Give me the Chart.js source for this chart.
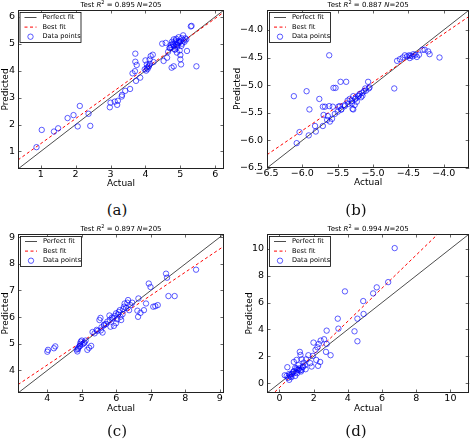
<!DOCTYPE html>
<html><head><meta charset="utf-8">
<script src="https://cdn.jsdelivr.net/npm/chart.js@4.4.0/dist/chart.umd.min.js"></script>
<style>
html,body{margin:0;padding:0;background:#fff;width:474px;height:442px;overflow:hidden;position:relative}
canvas{position:absolute}
.cap{position:absolute;font-family:"DejaVu Serif",serif;font-size:15px;color:#111;transform:translate(-50%,-50%);white-space:nowrap}
</style></head><body>
<canvas id="ca" width="237" height="200" style="left:0;top:0"></canvas>
<canvas id="cb" width="244" height="200" style="left:230px;top:0"></canvas>
<canvas id="cc" width="237" height="200" style="left:0;top:224px"></canvas>
<canvas id="cd" width="244" height="200" style="left:230px;top:224px"></canvas>
<div class="cap" style="left:117px;top:210px">(a)</div>
<div class="cap" style="left:356px;top:210px">(b)</div>
<div class="cap" style="left:117px;top:431px">(c)</div>
<div class="cap" style="left:356px;top:431px">(d)</div>
<script>
// ---------- data ----------
const actualA = [0.88,1.03,1.38,1.5,1.77,1.94,2.12,2.06,2.42,2.37,2.98,3.0,3.12,3.19,3.21,3.32,3.33,3.42,3.56,3.63,3.70,3.71,3.71,3.75,3.73,3.85,3.98,4.0,4.04,4.09,4.12,4.15,4.21,4.23,4.04,4.02,4.06,4.10,4.13,4.48,4.52,4.58,4.62,4.65,4.69,4.73,4.75,4.81,4.76,4.81,4.87,4.9,4.85,4.9,4.98,5.0,5.0,5.02,5.04,5.08,4.95,5.12,5.17,5.19,5.32,5.46,4.78,4.83,4.86,4.92,4.96,5.0,5.05,5.1,4.7,4.74,4.88,4.93,5.03,5.14,4.8,4.84,4.91,4.97,5.30];
const predictedA = [1.16,1.80,1.74,1.86,2.24,2.35,2.69,1.93,1.95,2.40,2.64,2.81,2.85,2.73,2.88,3.04,3.10,3.25,3.32,3.90,3.98,4.63,4.33,4.21,3.62,3.74,4.05,4.38,4.23,4.14,4.41,4.54,4.59,4.32,4.11,4.0,4.06,4.18,4.25,5.0,4.36,5.03,4.48,4.7,4.84,4.95,4.11,4.16,5.07,5.16,5.12,4.97,4.79,4.67,4.75,4.58,4.42,4.23,5.2,5.31,5.24,5.07,5.16,4.73,5.66,4.16,5.0,4.9,5.05,4.95,5.1,5.08,5.0,5.12,4.85,4.88,5.18,5.02,4.92,5.2,4.95,4.78,4.88,5.05,5.64];
const actualB = [-6.12,-5.94,-5.90,-6.04,-6.08,-5.91,-5.81,-5.82,-5.76,-5.71,-5.71,-5.70,-5.68,-5.65,-5.64,-5.62,-5.62,-5.61,-5.58,-5.57,-5.56,-5.53,-5.54,-5.49,-5.46,-5.38,-5.47,-5.45,-5.40,-5.36,-5.33,-5.30,-5.29,-5.28,-5.25,-5.23,-5.21,-5.26,-5.28,-5.19,-5.17,-5.15,-5.13,-5.11,-5.07,-5.06,-4.70,-4.66,-4.62,-4.58,-4.55,-4.52,-4.49,-4.48,-4.44,-4.40,-4.38,-4.35,-4.30,-4.27,-4.22,-4.20,-4.06,-5.5,-5.45,-5.4,-5.35,-5.3,-5.25,-5.2,-5.15,-5.1,-5.05,-4.47,-4.43];
const predictedB = [-5.20,-5.11,-5.44,-5.85,-6.05,-5.91,-5.84,-5.74,-5.25,-5.39,-5.74,-5.54,-5.39,-5.63,-5.56,-4.46,-5.38,-5.66,-5.61,-5.39,-5.05,-5.05,-5.52,-5.39,-4.94,-4.94,-5.38,-5.44,-5.36,-5.28,-5.25,-5.33,-5.43,-5.20,-5.25,-5.30,-5.20,-5.36,-5.44,-5.16,-5.22,-5.19,-5.11,-5.06,-4.94,-5.06,-5.06,-4.56,-4.53,-4.50,-4.46,-4.48,-4.46,-4.51,-4.48,-4.45,-4.49,-4.45,-4.36,-4.36,-4.39,-4.44,-4.50,-5.48,-5.44,-5.38,-5.34,-5.29,-5.24,-5.19,-5.14,-5.1,-5.04,-4.47,-4.44];
const actualC = [4.0,4.02,4.19,4.23,4.87,4.89,4.93,4.95,4.97,5.0,5.06,5.11,5.16,5.21,5.27,5.31,5.37,5.43,5.51,5.54,5.57,5.60,5.64,5.70,5.74,5.80,5.81,5.83,5.87,5.93,5.95,5.99,5.99,6.03,6.07,6.10,6.12,6.14,6.18,6.22,6.24,6.28,6.32,6.34,6.37,6.41,6.46,6.61,6.63,6.64,6.70,6.80,6.86,6.94,6.99,7.07,7.13,7.20,7.44,7.47,7.51,7.69,8.31,4.85,4.9,4.95,5.02,5.08,5.45,5.55,5.65,5.9,6.05,6.2];
const predictedC = [4.70,4.77,4.83,4.90,4.71,4.80,4.90,5.0,5.08,5.12,5.02,5.12,4.77,4.85,4.92,5.44,5.39,5.52,5.89,5.97,5.62,5.42,5.69,5.74,5.83,6.06,5.89,5.64,5.98,5.67,6.04,6.14,5.77,5.92,6.19,6.26,6.01,5.89,6.11,6.39,6.51,6.34,6.54,6.64,6.26,6.45,6.54,6.24,6.01,6.70,6.16,6.26,6.51,7.26,7.13,6.39,6.41,6.45,7.63,7.48,6.79,6.79,7.78,4.78,4.85,4.92,4.98,5.05,5.48,5.5,5.72,5.95,6.1,6.3];
const actualD = [6.74,6.36,5.69,5.48,4.90,3.83,4.92,4.56,3.41,3.45,4.39,4.56,2.76,2.61,2.72,2.99,2.76,2.30,2.22,2.11,2.41,1.99,1.95,2.38,2.26,1.88,1.69,1.57,1.42,1.19,1.23,1.30,1.38,1.11,1.0,0.92,0.84,1.11,1.26,0.80,0.71,0.57,0.46,0.42,0.31,0.57,0.65,0.92,1.03,1.30,1.53,1.80,2.15,1.49,1.0,0.6,0.75,0.85,0.95,1.05,1.15,1.2,1.35,0.7,0.5];
const predictedD = [10.05,7.52,7.13,6.68,6.11,6.83,5.15,4.80,4.80,4.06,3.86,3.12,3.91,3.27,2.33,2.08,2.92,2.92,2.67,2.48,3.17,3.02,2.03,1.58,1.29,1.24,2.08,1.78,1.53,2.33,2.10,1.78,1.24,1.34,1.73,1.14,1.58,0.99,0.87,0.84,0.69,0.69,1.19,0.54,0.59,0.25,0.50,0.54,0.74,0.99,1.04,1.49,1.73,1.34,1.09,0.6,0.7,0.9,0.8,1.0,1.1,0.95,1.2,0.45,0.4];

// best fit [slope, intercept]
const bestFitA = [0.93, 0.36];
const bestFitB = [0.876, -0.566];
const bestFitC = [0.871, 0.72];
const bestFitD = [1.232, -0.32];

// axis limits [min, max] (same on both axes)
const rangeA = [0.35, 6.25];
const rangeB = [-6.5, -3.64];
const rangeC = [3.15, 9.12];
const rangeD = [-0.73, 11.1];

// tick labels
const ticksA = [1, 2, 3, 4, 5, 6];
const ticksB = [-6.5, -6.0, -5.5, -5.0, -4.5, -4.0];
const ticksC = [4, 5, 6, 7, 8, 9];
const ticksD = [0, 2, 4, 6, 8, 10];

const r2Values = ['0.895', '0.887', '0.897', '0.994'];
const nValues = ['205', '205', '205', '205'];
const legendLabels = ['Perfect fit', 'Best fit', 'Data points'];

// ---------- plugins ----------
const FONT = '"DejaVu Sans", sans-serif';

const framePlugin = {
  id: 'frame',
  afterDatasetsDraw(chart) {
    const {ctx, chartArea: a, scales} = chart;
    ctx.save();
    ctx.strokeStyle = '#000';
    ctx.lineWidth = 0.6;
    const L = 3.5;
    ctx.beginPath();
    scales.x.ticks.forEach(t => {
      const px = Math.round(scales.x.getPixelForValue(t.value)) + 0.5;
      ctx.moveTo(px, a.bottom); ctx.lineTo(px, a.bottom - L);
      ctx.moveTo(px, a.top); ctx.lineTo(px, a.top + L);
    });
    scales.y.ticks.forEach(t => {
      const py = Math.round(scales.y.getPixelForValue(t.value)) + 0.5;
      ctx.moveTo(a.left, py); ctx.lineTo(a.left + L, py);
      ctx.moveTo(a.right, py); ctx.lineTo(a.right - L, py);
    });
    ctx.stroke();
    ctx.lineWidth = 1;
    ctx.strokeStyle = '#222';
    ctx.strokeRect(Math.round(a.left) + 0.5, Math.round(a.top) + 0.5, Math.round(a.right - a.left) - 1, Math.round(a.bottom - a.top) - 1);
    ctx.restore();
  }
};

const legendPlugin = {
  id: 'boxlegend',
  afterDraw(chart, args, opts) {
    const {ctx, chartArea: a} = chart;
    const x0 = a.left + opts.dx, y0 = a.top + opts.dy, w = opts.w, h = 30;
    ctx.save();
    ctx.fillStyle = '#fff';
    ctx.fillRect(x0, y0, w, h);
    ctx.strokeStyle = '#000';
    ctx.lineWidth = 0.8;
    ctx.strokeRect(x0 + 0.5, y0 + 0.5, w, h);
    const ds = chart.data.datasets;
    const rows = [ds[2], ds[1], ds[0]];
    ctx.font = '6.6px ' + FONT;
    ctx.textBaseline = 'middle';
    ctx.fillStyle = '#000';
    rows.forEach((d, i) => {
      const y = y0 + 5.5 + i * 9.6;
      if (d.type === 'line') {
        ctx.beginPath();
        ctx.strokeStyle = d.borderColor;
        ctx.lineWidth = d.borderWidth;
        ctx.setLineDash(d.borderDash || []);
        ctx.moveTo(x0 + 5, y); ctx.lineTo(x0 + 17, y);
        ctx.stroke();
        ctx.setLineDash([]);
      } else {
        ctx.beginPath();
        ctx.strokeStyle = d.borderColor;
        ctx.lineWidth = d.borderWidth;
        ctx.arc(x0 + 11, y, d.radius, 0, Math.PI * 2);
        ctx.stroke();
      }
      ctx.fillStyle = '#000';
      ctx.fillText(d.label, x0 + opts.tx, y);
    });
    ctx.restore();
  }
};

const titlePlugin = {
  id: 'rtitle',
  afterDraw(chart, args, opts) {
    const {ctx, chartArea: a} = chart;
    const parts = [
      {t: 'Test ', f: '7px ' + FONT, dy: 0},
      {t: 'R', f: 'italic 7px ' + FONT, dy: 0},
      {t: '2', f: '5px ' + FONT, dy: -2.5},
      {t: ' = ' + opts.r2 + ' ', f: '7px ' + FONT, dy: 0},
      {t: 'N', f: 'italic 7px ' + FONT, dy: 0},
      {t: '=' + opts.n, f: '7px ' + FONT, dy: 0}
    ];
    ctx.save();
    let total = 0;
    parts.forEach(p => { ctx.font = p.f; p.w = ctx.measureText(p.t).width; total += p.w; });
    let x = (a.left + a.right) / 2 - total / 2;
    const y = a.top - 4.5;
    ctx.fillStyle = '#000';
    ctx.textBaseline = 'middle';
    parts.forEach(p => { ctx.font = p.f; ctx.fillText(p.t, x, y + p.dy); x += p.w; });
    ctx.restore();
  }
};

function fmt(v, dec) {
  return v.toFixed(dec).replace('-', '\u2212');
}

function makePanel(id, actual, predicted, fit, range, ticks, dec, lay, idx) {
  const [lo, hi] = range;
  const pts = actual.map((x, i) => ({x: x, y: predicted[i]}));
  const axisCommon = (isX) => ({
    type: 'linear', min: lo, max: hi,
    afterBuildTicks: s => { s.ticks = ticks.map(v => ({value: v})); },
    afterFit: s => { if (isX) s.height = lay.xH; else s.width = lay.yW; },
    grid: {display: false, drawTicks: false},
    border: {display: false},
    ticks: {
      padding: isX ? lay.xTickPad : lay.yTickPad,
      font: {family: FONT, size: 9.5}, color: '#000',
      callback: v => fmt(v, dec), maxRotation: 0, autoSkip: false
    },
    title: {
      display: true, text: isX ? 'Actual' : 'Predicted',
      font: {family: FONT, size: 9}, color: '#000',
      padding: isX ? {top: 0, bottom: lay.xTitlePad} : {top: lay.yTitlePad, bottom: 0}
    }
  });
  return new Chart(document.getElementById(id), {
    type: 'scatter',
    data: {datasets: [
      {label: legendLabels[2], data: pts, pointStyle: 'circle', radius: 2.7, pointRadius: 2.7,
       borderColor: 'rgba(0,0,255,0.8)', backgroundColor: 'rgba(0,0,0,0)', borderWidth: 0.8, order: 0},
      {type: 'line', label: legendLabels[1], data: [{x: lo, y: fit[0] * lo + fit[1]}, {x: hi, y: fit[0] * hi + fit[1]}],
       borderColor: '#ff0000', borderDash: [3, 2.5], borderWidth: 1, pointRadius: 0, fill: false, order: 1},
      {type: 'line', label: legendLabels[0], data: [{x: lo, y: lo}, {x: hi, y: hi}],
       borderColor: '#000', borderWidth: 0.7, pointRadius: 0, fill: false, order: 2}
    ]},
    options: {
      responsive: false, animation: false, events: [],
      layout: {padding: {left: 0, top: lay.padT, right: lay.padR, bottom: 0}},
      scales: {x: axisCommon(true), y: axisCommon(false)},
      plugins: {
        legend: {display: false}, tooltip: {enabled: false},
        boxlegend: {dx: lay.lgDx, dy: 2, w: 61, tx: 23},
        rtitle: {r2: r2Values[idx], n: nValues[idx]}
      }
    },
    plugins: [framePlugin, legendPlugin, titlePlugin]
  });
}

makePanel('ca', actualA, predictedA, bestFitA, rangeA, ticksA, 0,
  {padT: 10, padR: 13, yW: 18, xH: 31, xTickPad: 0, yTickPad: 3, xTitlePad: 11, yTitlePad: 0, lgDx: 1.5}, 0);
makePanel('cb', actualB, predictedB, bestFitB, rangeB, ticksB, 1,
  {padT: 10, padR: 1, yW: 37, xH: 32, xTickPad: 0, yTickPad: 4, xTitlePad: 12, yTitlePad: 2.4, lgDx: 2}, 1);
makePanel('cc', actualC, predictedC, bestFitC, rangeC, ticksC, 0,
  {padT: 10, padR: 13, yW: 18, xH: 31, xTickPad: 0, yTickPad: 3, xTitlePad: 10, yTitlePad: 0, lgDx: 2}, 2);
makePanel('cd', actualD, predictedD, bestFitD, rangeD, ticksD, 0,
  {padT: 10, padR: 1, yW: 37, xH: 31, xTickPad: 0, yTickPad: 3, xTitlePad: 10, yTitlePad: 14, lgDx: 2}, 3);
</script>
</body></html>
